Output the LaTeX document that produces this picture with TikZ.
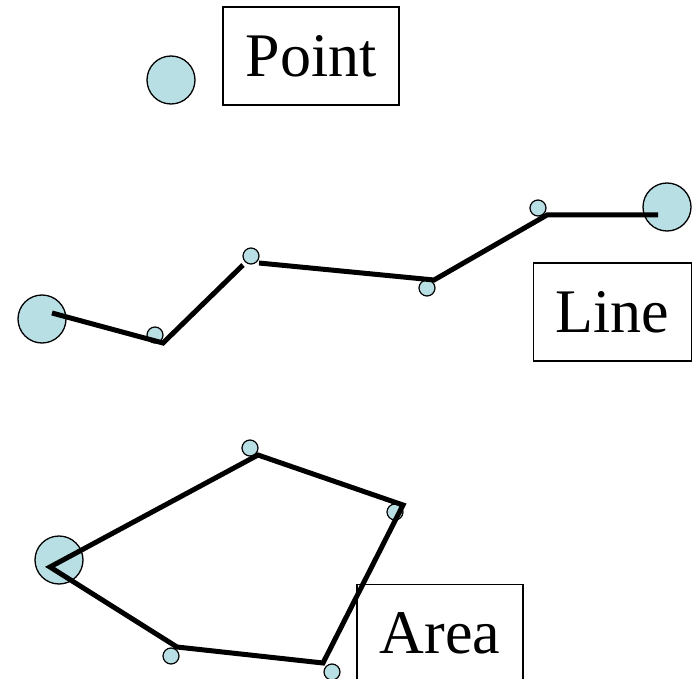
\documentclass[tikz,border=0pt]{standalone}
\usepackage{fontspec}
\setmainfont{Liberation Serif}
\usetikzlibrary{positioning}
\definecolor{dotfill}{RGB}{184,223,228}

\begin{document}
\begin{tikzpicture}[
  x=1pt, y=-1pt,
  font=\fontsize{62}{70}\selectfont,
  bigdot/.style={
    circle,
    draw=black,
    fill=dotfill,
    line width=1.3pt,
    inner sep=0pt,
    minimum size=48pt
  },
  smalldot/.style={
    circle,
    draw=black,
    fill=dotfill,
    line width=1.2pt,
    inner sep=0pt,
    minimum size=16pt
  },
  tag/.style={
    draw=black,
    line width=1.1pt,
    inner sep=0pt,
    minimum height=98pt
  },
  path/.style={line width=5pt, draw=black}
]
\useasboundingbox (0,0) rectangle (699,679);
\clip (0,0) rectangle (699,679);

% point
\node[bigdot] (pdot) at (171,80) {};
\node[tag, minimum width=176pt] (ptag) at (311,56) {Point};

% line
\node[bigdot] (lstart) at (42,319) {};
\node[smalldot] (lv1) at (155,335) {};
\node[smalldot] (lv2) at (251,256) {};
\node[smalldot] (lv3) at (427,288) {};
\node[smalldot] (lv4) at (538,208) {};
\node[bigdot] (lend) at (667,207) {};
\node[tag, minimum width=158pt] (ltag) at (612.5,312) {Line};

\coordinate (l1) at (52,313);
\coordinate (l2) at (163,343);
\coordinate (l3) at (243,265);
\coordinate (l4) at (259,263);
\coordinate (l5) at (434,280);
\coordinate (l6) at (547,215);
\coordinate (l7) at (658,215);

% area
\node[bigdot] (astart) at (59,560) {};
\node[smalldot] (av1) at (250,448) {};
\node[smalldot] (av2) at (395,512) {};
\node[smalldot] (av3) at (332,672) {};
\node[smalldot] (av4) at (171,656) {};
\node[tag, minimum width=166pt] (atag) at (440,633.5) {Area};

\coordinate (a1) at (50,567);
\coordinate (a2) at (258,455);
\coordinate (a3) at (403,505);
\coordinate (a4) at (323,663);
\coordinate (a5) at (177,647);

\draw[path] (l1) -- (l2) -- (l3);
\draw[path] (l4) -- (l5) -- (l6) -- (l7);
\draw[path] (a1) -- (a2) -- (a3) -- (a4) -- (a5) -- cycle;

\end{tikzpicture}
\end{document}
